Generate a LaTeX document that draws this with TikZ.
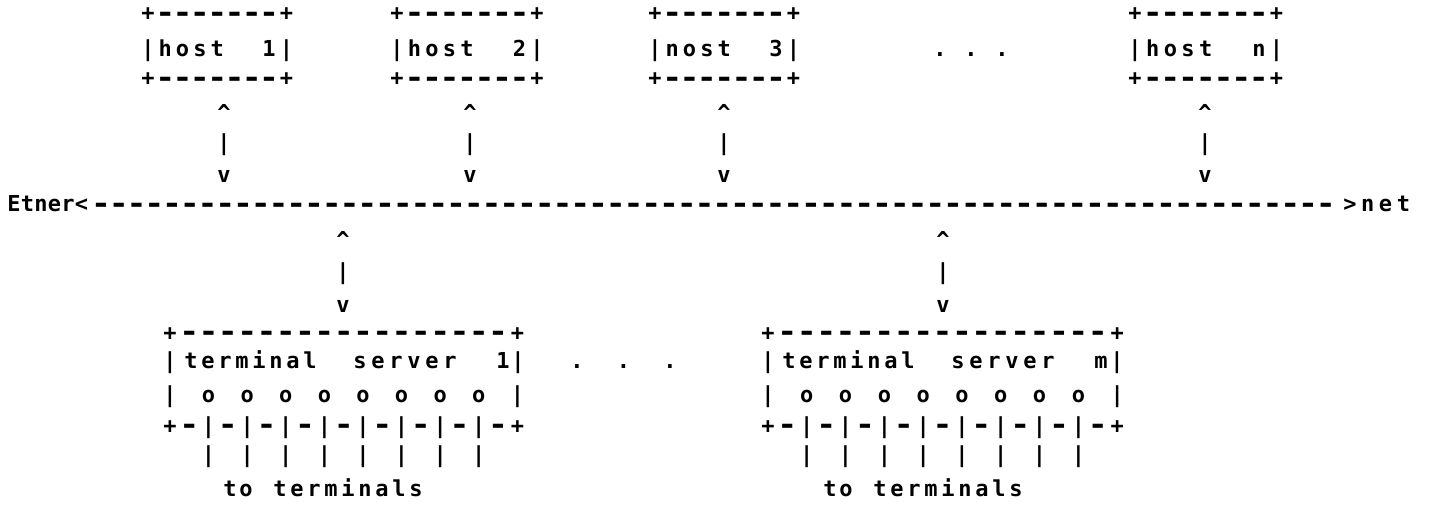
\documentclass[tikz,border=0pt]{standalone}
\usepackage{fontspec}
\newfontfamily\asciifont{DejaVu Sans Mono}
% one pixel of the drawing grid
\newdimen\upx \upx=0.5pt
\newdimen\cw
% the printer's long, heavy hyphen
\newcommand\dashglyph{\raisebox{-0.9pt}{\scalebox{1.5}[1.3]{-}}}
% \spc{pitch}{chars}: set every character in a cell of fixed width (~ = blank cell)
\makeatletter
\def\spc#1#2{\cw=#1\upx\spc@#2\relax}
\def\spc@#1{\ifx#1\relax\else
  \ifx#1-\makebox[\cw]{\dashglyph}\else\makebox[\cw]{#1}\fi
  \expandafter\spc@\fi}
\makeatother
\tikzset{ascii/.style={anchor=base west, inner sep=0pt, outer sep=0pt,
  font=\asciifont\bfseries\fontsize{11pt}{11pt}\selectfont, text=black}}
% \txt{name}{centre of first cell}{baseline}{pitch}{chars}
\newcommand\txt[5]{\node[ascii] (#1) at ({#2-#4/2},#3) {\spc{#4}{#5}};}
\begin{document}
\begin{tikzpicture}[x=0.5pt,y=-0.5pt]
\path[use as bounding box, fill=white] (0,0) rectangle (1431,508);

% ---- hosts
\txt{hAt}{148}{21}{17.3}{+-------+}
\txt{hAm}{148}{57}{17.3}{|host~~1|}
\txt{hAb}{148}{86}{17.3}{+-------+}
\txt{hAu}{224}{121}{17.5}{\textasciicircum}
\txt{hAl}{224}{151}{17.5}{|}
\txt{hAd}{224}{183}{17.5}{v}

\txt{hBt}{397}{21}{17.5}{+-------+}
\txt{hBm}{397}{57}{17.5}{|host~~2|}
\txt{hBb}{397}{86}{17.5}{+-------+}
\txt{hBu}{470}{121}{17.5}{\textasciicircum}
\txt{hBl}{470}{151}{17.5}{|}
\txt{hBd}{470}{183}{17.5}{v}

\txt{hCt}{655}{21}{17.3}{+-------+}
\txt{hCm}{655}{57}{17.3}{|nost~~3|}
\txt{hCb}{655}{86}{17.3}{+-------+}
\txt{hCu}{724}{121}{17.5}{\textasciicircum}
\txt{hCl}{724}{151}{17.5}{|}
\txt{hCd}{724}{183}{17.5}{v}

\txt{hdots}{940}{57}{15.5}{.~.~.}

\txt{hNt}{1135}{21}{17.7}{+-------+}
\txt{hNm}{1135}{57}{17.7}{|host~~n|}
\txt{hNb}{1135}{86}{17.7}{+-------+}
\txt{hNu}{1205}{121}{17.5}{\textasciicircum}
\txt{hNl}{1205}{151}{17.5}{|}
\txt{hNd}{1205}{183}{17.5}{v}

% ---- the cable
\txt{ethL}{14}{212}{13.5}{Etner<}
\txt{eth}{101}{212}{17.75}{----------------------------------------------------------------------}
\txt{ethR}{1350}{212}{17.8}{>net}

% ---- taps to the terminal servers
\txt{sAu}{343}{248}{17.5}{\textasciicircum}
\txt{sAl}{343}{279}{17.5}{|}
\txt{sAd}{343}{312}{17.5}{v}
\txt{sBu}{943}{248}{17.5}{\textasciicircum}
\txt{sBl}{943}{279}{17.5}{|}
\txt{sBd}{943}{312}{17.5}{v}

% ---- terminal server 1
\txt{tAt}{170}{340}{19.3}{+-----------------+}
\txt{tAl}{170}{368}{19.3}{|}
\txt{tAw}{191}{368}{17}{terminal}
\txt{tAs}{360}{368}{18}{server}
\txt{tAn}{503}{368}{17}{1}
\txt{tAr}{518}{368}{17}{|}
\txt{tAo}{170}{402}{19.3}{|~o~o~o~o~o~o~o~o~|}
\txt{tAb}{170}{433}{19.3}{+-|-|-|-|-|-|-|-|-+}
\txt{tAp}{208.6}{462}{19.3}{|~|~|~|~|~|~|~|}
\txt{tAx}{230}{496}{16}{to}
\txt{tAy}{280}{496}{17}{terminals}

\txt{tdots}{577}{368}{23.25}{.~.~.}

% ---- terminal server m
\txt{tBt}{768}{340}{19.4}{+-----------------+}
\txt{tBl}{768}{368}{19.4}{|}
\txt{tBw}{789}{368}{17}{terminal}
\txt{tBs}{958}{368}{18}{server}
\txt{tBn}{1101}{368}{17}{m}
\txt{tBr}{1117}{368}{17}{|}
\txt{tBo}{768}{402}{19.4}{|~o~o~o~o~o~o~o~o~|}
\txt{tBb}{768}{433}{19.4}{+-|-|-|-|-|-|-|-|-+}
\txt{tBp}{806.8}{462}{19.4}{|~|~|~|~|~|~|~|}
\txt{tBx}{830}{496}{16}{to}
\txt{tBy}{880}{496}{17}{terminals}
\end{tikzpicture}
\end{document}
